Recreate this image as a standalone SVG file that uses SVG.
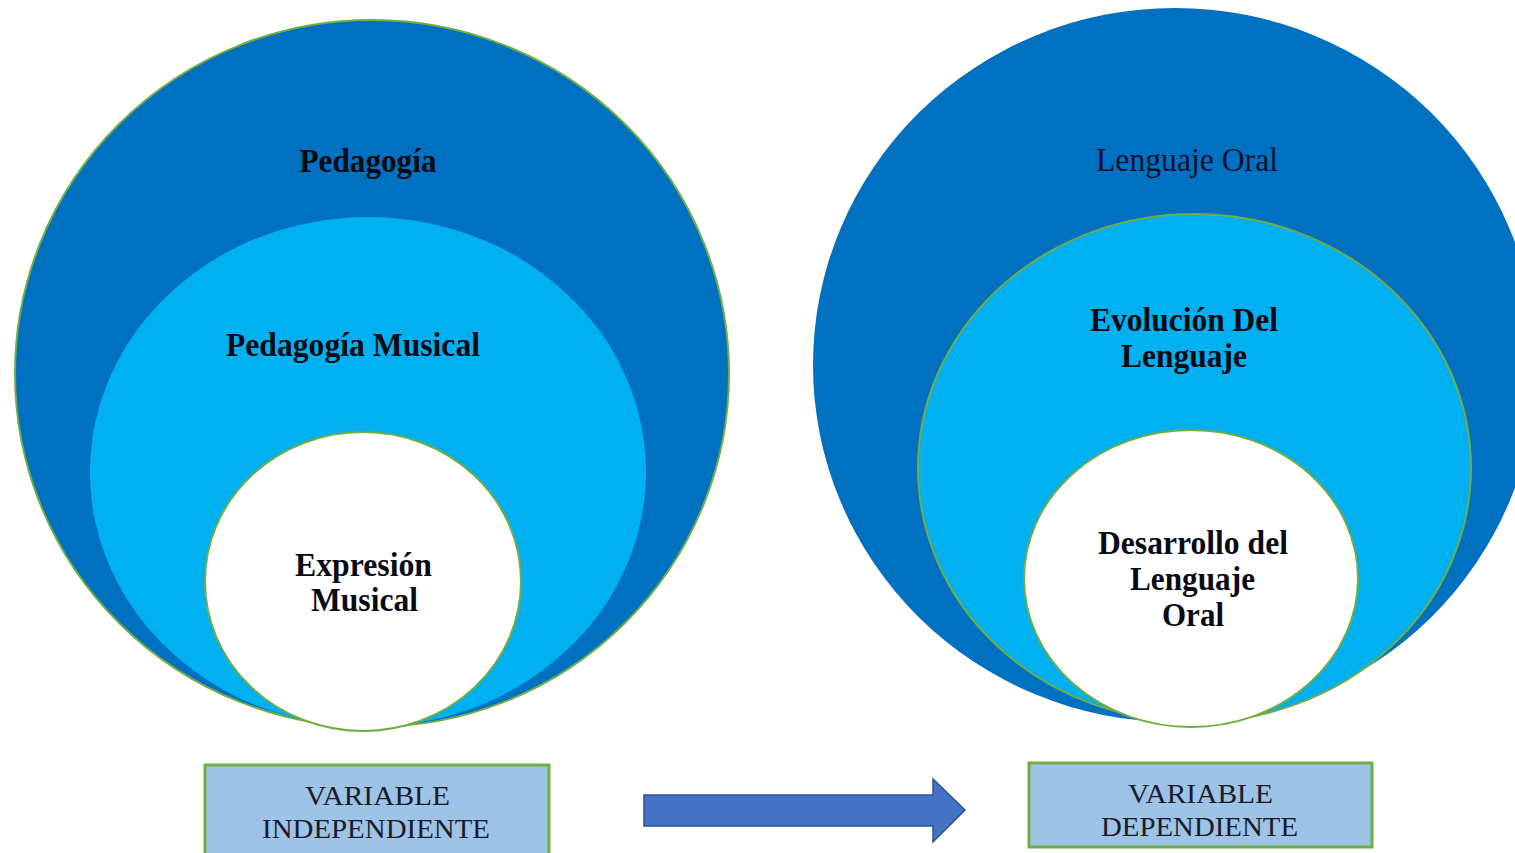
<svg xmlns="http://www.w3.org/2000/svg" width="1515" height="853" viewBox="0 0 1515 853">
<style>
.dark{fill:#0070C0;}
.light{fill:#00B0F0;}
.white{fill:#FFFFFF;}
.gs{stroke:#70AD47;stroke-width:2;}
.box{fill:#9DC3E6;stroke:#70AD47;stroke-width:3;}
.tb{font-family:"Liberation Serif","Times New Roman",serif;font-weight:bold;font-size:34px;fill:#0A0A14;text-anchor:middle;}
.tr{font-family:"Liberation Serif","Times New Roman",serif;font-size:33px;fill:#0A1030;text-anchor:middle;}
.tv{font-family:"Liberation Serif","Times New Roman",serif;font-size:27px;fill:#1A1A2A;text-anchor:middle;}
</style>
<rect width="1515" height="853" fill="#FFFFFF"/>
<g id="pedagogia">
<ellipse class="dark gs" cx="372" cy="373.5" rx="357" ry="353.5" stroke-width="1.5"/>
<text class="tb" x="368" y="172" textLength="137" lengthAdjust="spacingAndGlyphs">Pedagogía</text>
</g>
<g id="pedagogia-musical">
<ellipse class="light" cx="368" cy="472" rx="278" ry="255"/>
<text class="tb" x="353" y="356" textLength="254" lengthAdjust="spacingAndGlyphs">Pedagogía Musical</text>
</g>
<g id="expresion-musical">
<ellipse class="white gs" cx="363" cy="581.5" rx="158" ry="149.5"/>
<text class="tb" x="363.5" y="576" textLength="137" lengthAdjust="spacingAndGlyphs">Expresión</text>
<text class="tb" x="364.5" y="611" textLength="107" lengthAdjust="spacingAndGlyphs">Musical</text>
</g>
<g id="lenguaje-oral">
<ellipse class="dark" cx="1175" cy="365" rx="362" ry="357"/>
<text class="tr" x="1187" y="171" textLength="182" lengthAdjust="spacingAndGlyphs">Lenguaje Oral</text>
</g>
<g id="evolucion-lenguaje">
<ellipse class="light gs" cx="1194.5" cy="468" rx="276.5" ry="254"/>
<text class="tb" x="1184" y="331" textLength="188" lengthAdjust="spacingAndGlyphs">Evolución Del</text>
<text class="tb" x="1184" y="367" textLength="126" lengthAdjust="spacingAndGlyphs">Lenguaje</text>
</g>
<g id="desarrollo-lenguaje-oral">
<ellipse class="white gs" cx="1191" cy="578.5" rx="167" ry="148.5"/>
<text class="tb" x="1193" y="554" textLength="190" lengthAdjust="spacingAndGlyphs">Desarrollo del</text>
<text class="tb" x="1192.5" y="590" textLength="125" lengthAdjust="spacingAndGlyphs">Lenguaje</text>
<text class="tb" x="1193" y="626" textLength="62" lengthAdjust="spacingAndGlyphs">Oral</text>
</g>
<g id="variable-independiente">
<rect class="box" x="205" y="765" width="344" height="100"/>
<text class="tv" x="377.5" y="805" textLength="145" lengthAdjust="spacingAndGlyphs">VARIABLE</text>
<text class="tv" x="376" y="838" textLength="228" lengthAdjust="spacingAndGlyphs">INDEPENDIENTE</text>
</g>
<g id="variable-dependiente">
<rect class="box" x="1029" y="763" width="343" height="84"/>
<text class="tv" x="1200.5" y="803" textLength="145" lengthAdjust="spacingAndGlyphs">VARIABLE</text>
<text class="tv" x="1199.5" y="836" textLength="197" lengthAdjust="spacingAndGlyphs">DEPENDIENTE</text>
</g>
<g id="connectors">
<path d="M644,795 L933,795 L933,779 L965,810 L933,842 L933,826 L644,826 Z" fill="#4472C4" stroke="#2F528F" stroke-width="1.5"/>
</g>
</svg>
